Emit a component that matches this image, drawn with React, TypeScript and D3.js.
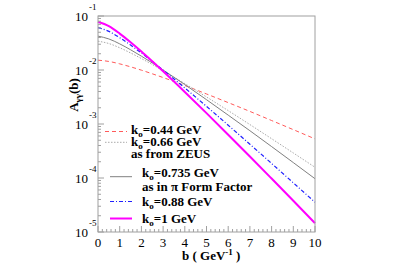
import React from 'react'
import * as d3 from 'd3'

/* svg size and the frame of the plot (ROOT style picture) */
const width = 414
const height = 278
const frame = { left: 98, right: 315, top: 16, bottom: 232 }

/* impact parameter b in GeV^-1 */
const bValues = [0, 0.5, 1, 1.5, 2, 2.5, 3, 4, 5, 6, 7, 8, 9, 10]

/* A_gg(b), one list per k0 */
const k044 = [0.0152, 0.0144, 0.013, 0.01145, 0.00993, 0.00851, 0.00725, 0.00516, 0.0036, 0.00249, 0.00171, 0.00116, 0.000786, 0.00053]
const k066 = [0.0342, 0.0309, 0.0258, 0.0207, 0.0163, 0.01265, 0.00972, 0.0056, 0.00317, 0.00177, 0.000976, 0.000534, 0.000291, 0.000158]
const k0735 = [0.0424, 0.0376, 0.0305, 0.0237, 0.01805, 0.01352, 0.01, 0.00538, 0.00282, 0.00146, 0.000751, 0.000382, 0.000193, 0.000097]
const k088 = [0.0608, 0.052, 0.0397, 0.029, 0.0206, 0.0144, 0.00996, 0.00465, 0.00212, 0.00095, 0.000422, 0.000186, 0.0000815, 0.0000355]
const k1 = [0.0785, 0.065, 0.0472, 0.0326, 0.022, 0.0145, 0.00946, 0.00392, 0.00159, 0.000633, 0.00025, 0.0000976, 0.0000379, 0.0000146]

const xTicks = [0, 1, 2, 3, 4, 5, 6, 7, 8, 9, 10]
const yDecades = [-5, -4, -3, -2, -1]

/* legend rows: label pieces, extra line of text */
const series = [
    { key: '0.44', values: k044, color: '#ff5a5a', width: 1, dash: '4 3', legendY: 131.5, lx1: 105, lx2: 127, tx: 131, ty: 133.5, extra: null, ey: 0 },
    { key: '0.66', values: k066, color: '#aaaaaa', width: 1, dash: '1.5 1.5', legendY: 142.3, lx1: 105, lx2: 127, tx: 131, ty: 146, extra: 'as from ZEUS', ey: 158 },
    { key: '0.735', values: k0735, color: '#808080', width: 1, dash: null, legendY: 176.7, lx1: 110, lx2: 132, tx: 142, ty: 176.5, extra: 'as in \u03c0 Form Factor', ey: 191 },
    { key: '0.88', values: k088, color: '#2020ff', width: 1.2, dash: '4 2 1 2', legendY: 201.5, lx1: 110, lx2: 132, tx: 142, ty: 205.5, extra: null, ey: 0 },
    { key: '1', values: k1, color: '#ff00ff', width: 2, dash: null, legendY: 218.5, lx1: 110, lx2: 132, tx: 142, ty: 222.5, extra: null, ey: 0 },
]

const font = "'Liberation Serif', 'DejaVu Serif', serif"
const txt = { fontFamily: font }

const xScale = d3.scaleLinear().domain([0, 10]).range([frame.left, frame.right])
const yScale = d3.scaleLog().domain([1e-5, 1e-1]).range([frame.bottom, frame.top])

const App = () => {
    /* one path per k0 */
    const line = d3
        .line<[number, number]>()
        .x((d) => xScale(d[0]))
        .y((d) => yScale(d[1]))
        .curve(d3.curveMonotoneX)

    const xMinor = d3.range(0, 10.001, 0.2)
    const yMinor = yScale.ticks()

    return (
        <svg
            width={width}
            height={height}
            style={{ position: 'absolute', left: 0, top: 0, background: '#fff', fontFamily: font }}
        >
            {/* curves */}
            {series.map((s) => (
                <path
                    key={s.key}
                    d={line(bValues.map((b, i) => [b, s.values[i]])) || ''}
                    fill="none"
                    stroke={s.color}
                    strokeWidth={s.width}
                    strokeDasharray={s.dash || undefined}
                />
            ))}

            {/* frame */}
            <rect
                x={frame.left}
                y={frame.top}
                width={frame.right - frame.left}
                height={frame.bottom - frame.top}
                fill="none"
                stroke="#a0a0a0"
                strokeWidth={1}
            />

            {/* x ticks, inward */}
            {xMinor.map((t, i) => {
                const major = Math.abs(t - Math.round(t)) < 1e-6
                return (
                    <line
                        key={'xm' + i}
                        x1={xScale(t)}
                        x2={xScale(t)}
                        y1={frame.bottom}
                        y2={frame.bottom - (major ? 6 : 3)}
                        stroke="#a0a0a0"
                    />
                )
            })}
            {xTicks.map((t) => (
                <text key={'xl' + t} x={xScale(t)} y={247} fontSize={13} textAnchor="middle" fill="#000" style={txt}>
                    {t}
                </text>
            ))}

            {/* y ticks, inward, log minor */}
            {yMinor.map((t, i) => {
                const l = Math.log10(t)
                const major = Math.abs(l - Math.round(l)) < 1e-6
                return (
                    <line
                        key={'ym' + i}
                        x1={frame.left}
                        x2={frame.left + (major ? 6 : 3)}
                        y1={yScale(t)}
                        y2={yScale(t)}
                        stroke="#a0a0a0"
                    />
                )
            })}
            {yDecades.map((e) => (
                <g key={'yl' + e}>
                    <text x={88} y={yScale(Math.pow(10, e)) + 5} fontSize={13} textAnchor="end" fill="#000" style={txt}>
                        10
                    </text>
                    <text x={89} y={yScale(Math.pow(10, e)) - 6} fontSize={9} fill="#000" style={txt}>
                        {'-' + -e}
                    </text>
                </g>
            ))}

            {/* axis titles */}
            <text transform="translate(78, 95) rotate(-90)" fontSize={13} fontWeight="bold" textAnchor="middle" fill="#000" style={txt}>
                A
                <tspan fontSize={9} dy={3}>
                    {'\u03b3\u03b3'}
                </tspan>
                <tspan dy={-3}>(b)</tspan>
            </text>
            <text x={182} y={260} fontSize={13} fontWeight="bold" fill="#000" style={txt}>
                {'b ( GeV'}
                <tspan fontSize={9} dy={-5}>
                    -1
                </tspan>
                <tspan dy={5}>{' )'}</tspan>
            </text>

            {/* legend */}
            {series.map((s) => (
                <g key={'lg' + s.key}>
                    <line
                        x1={s.lx1}
                        x2={s.lx2}
                        y1={s.legendY}
                        y2={s.legendY}
                        stroke={s.color}
                        strokeWidth={s.width}
                        strokeDasharray={s.dash || undefined}
                    />
                    <text x={s.tx} y={s.ty} fontSize={13} fontWeight="bold" fill="#000" style={txt}>
                        k
                        <tspan fontSize={9} dy={3}>
                            o
                        </tspan>
                        <tspan dy={-3}>{'=' + s.key + ' GeV'}</tspan>
                    </text>
                    {s.extra && (
                        <text x={s.tx} y={s.ey} fontSize={13} fontWeight="bold" fill="#000" style={txt}>
                            {s.extra}
                        </text>
                    )}
                </g>
            ))}
        </svg>
    )
}

export default App
